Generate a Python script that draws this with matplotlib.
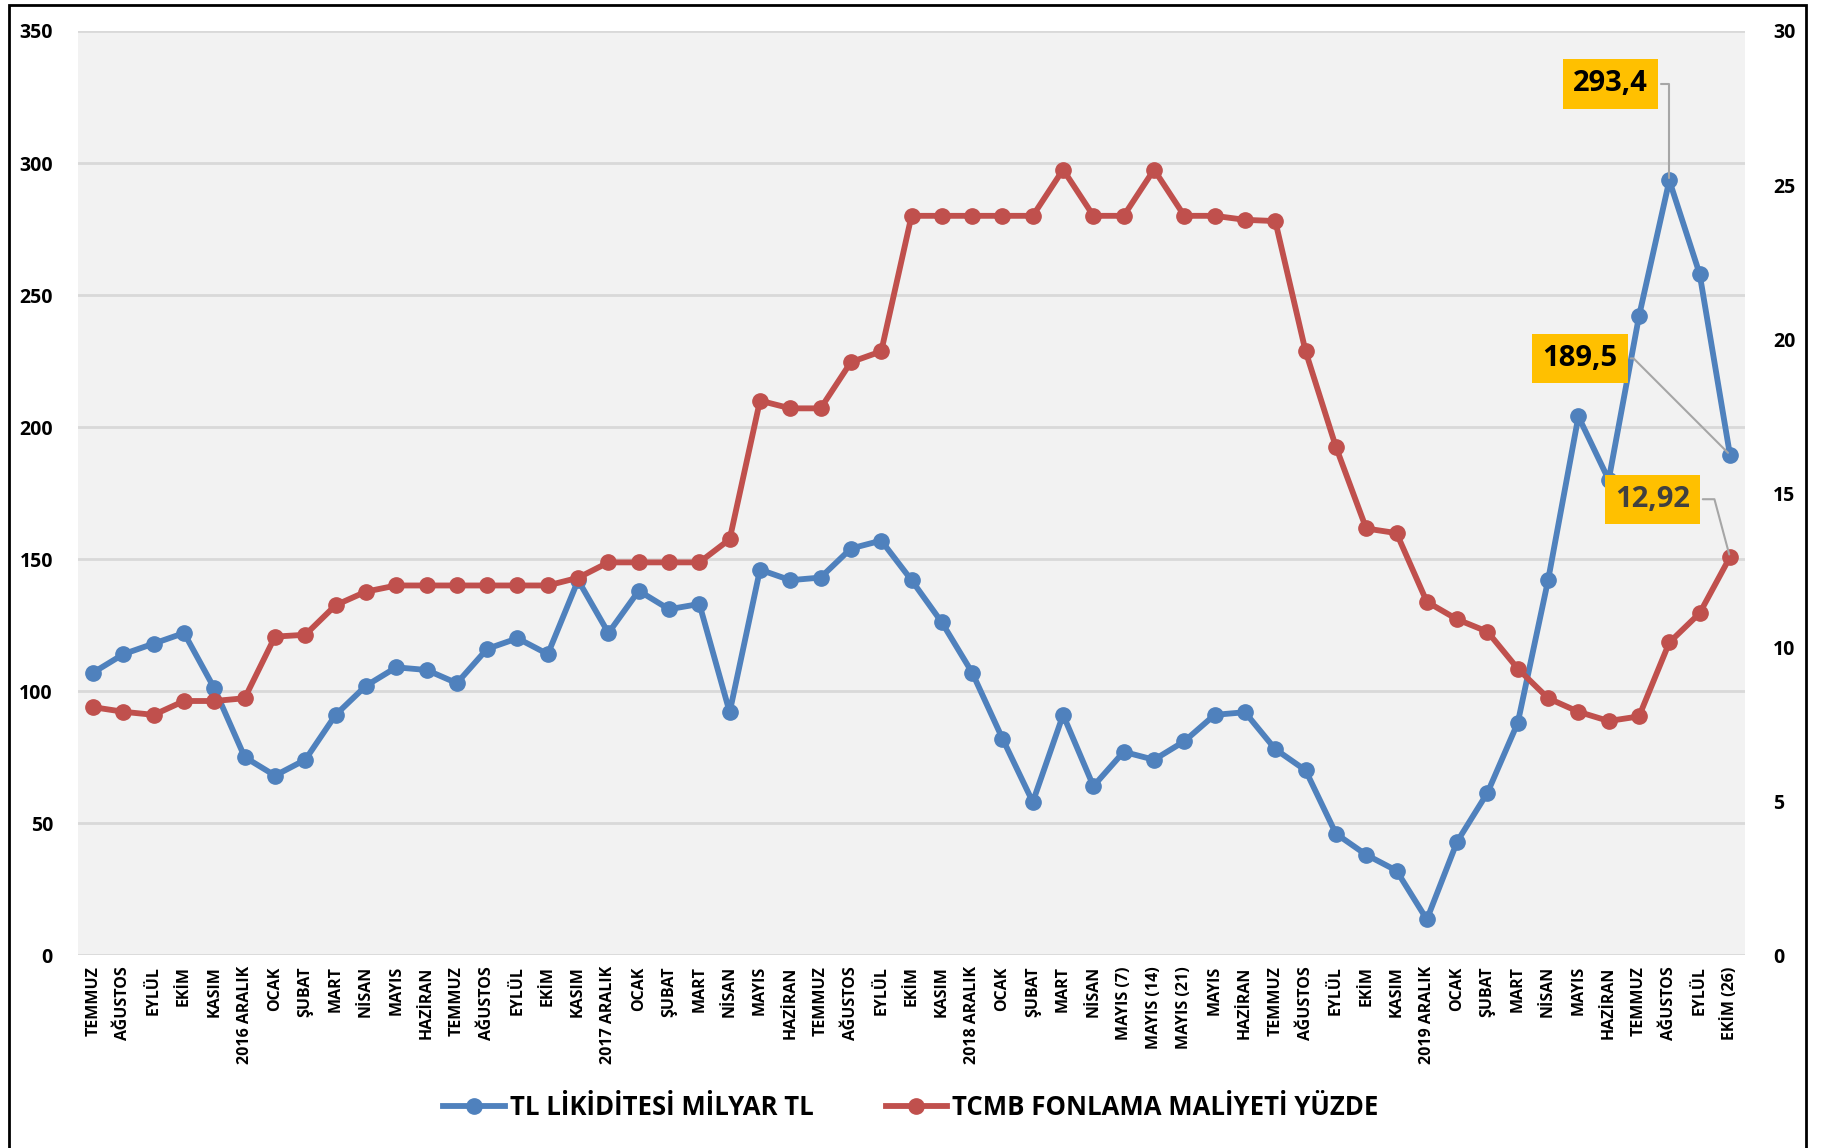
import matplotlib
matplotlib.use("Agg")
import matplotlib.pyplot as plt
from matplotlib.patches import Rectangle

plt.rcParams['font.family'] = ['Open Sans', 'DejaVu Sans']

# -----------------------------
# Data
# -----------------------------
months = [
    "TEMMUZ", "AĞUSTOS", "EYLÜL", "EKİM", "KASIM", "2016 ARALIK", "OCAK", "ŞUBAT",
    "MART", "NİSAN", "MAYIS", "HAZİRAN", "TEMMUZ", "AĞUSTOS", "EYLÜL", "EKİM",
    "KASIM", "2017 ARALIK", "OCAK", "ŞUBAT", "MART", "NİSAN", "MAYIS", "HAZİRAN",
    "TEMMUZ", "AĞUSTOS", "EYLÜL", "EKİM", "KASIM", "2018 ARALIK", "OCAK", "ŞUBAT",
    "MART", "NİSAN", "MAYIS (7)", "MAYIS (14)", "MAYIS (21)", "MAYIS", "HAZİRAN",
    "TEMMUZ", "AĞUSTOS", "EYLÜL", "EKİM", "KASIM", "2019 ARALIK", "OCAK", "ŞUBAT",
    "MART", "NİSAN", "MAYIS", "HAZİRAN", "TEMMUZ", "AĞUSTOS", "EYLÜL", "EKİM (26)",
]

tl_likidite = [
    107, 114, 118, 122, 101, 75, 68, 74, 91, 102, 109, 108, 103, 116, 120, 114,
    142, 122, 138, 131, 133, 92, 146, 142, 143, 154, 157, 142, 126, 107, 82, 58,
    91, 64, 77, 74, 81, 91, 92, 78, 70, 46, 38, 32, 13.5, 43, 61.5, 88,
    142, 204, 180, 242, 293.4, 258, 189.5,
]

tcmb_fonlama = [
    8.05, 7.9, 7.8, 8.25, 8.25, 8.34, 10.34, 10.4, 11.36, 11.8, 12.0, 12.0, 12.0, 12.0, 12.0, 12.0,
    12.25, 12.75, 12.75, 12.75, 12.75, 13.5, 18.0, 17.75, 17.75, 19.25, 19.6, 24.0, 24.0, 24.0, 24.0, 24.0,
    25.5, 24.0, 24.0, 25.5, 24.0, 24.0, 23.87, 23.83, 19.6, 16.5, 13.85, 13.7, 11.47, 10.9, 10.5, 9.3,
    8.34, 7.9, 7.6, 7.75, 10.15, 11.1, 12.92,
]

blue = "#4F81BD"
red = "#C0504D"

# -----------------------------
# Plot
# -----------------------------
fig = plt.figure(figsize=(18.22, 11.48), dpi=100)
ax = fig.add_axes([0.0428, 0.168, 0.915, 0.805])
ax2 = ax.twinx()

x = list(range(len(months)))
l1, = ax.plot(x, tl_likidite, color=blue, lw=4.2, marker="o", ms=11, zorder=3,
              label="TL LİKİDİTESİ MİLYAR TL")
l2, = ax2.plot(x, tcmb_fonlama, color=red, lw=4.2, marker="o", ms=11, zorder=3,
               label="TCMB FONLAMA MALİYETİ YÜZDE")

ax.set_facecolor("#F2F2F2")
ax.set_xlim(-0.5, len(months) - 0.5)
ax.set_ylim(0, 350)
ax2.set_ylim(0, 30)
ax.set_yticks(range(0, 351, 50))
ax2.set_yticks(range(0, 31, 5))
ax.grid(axis="y", color="#D9D9D9", lw=2)
ax.set_axisbelow(True)

ax.set_xticks(x)
ax.set_xticklabels(months, rotation=90, fontsize=11.5, fontweight="bold")
for a in (ax, ax2):
    for s in a.spines.values():
        s.set_visible(False)
    a.tick_params(length=0)
ax.tick_params(axis="y", pad=18, labelsize=14)
ax.tick_params(axis="x", pad=8)
ax2.tick_params(axis="y", pad=20, labelsize=14)
for lab in ax.get_yticklabels() + ax2.get_yticklabels():
    lab.set_fontweight("bold")

# annotations
box = dict(boxstyle="square,pad=0.35", fc="#FFC000", ec="none")
ax.annotate("293,4", xy=(52, tl_likidite[52]), xytext=(50.06, 330),
            fontsize=21, fontweight="bold", color="black", ha="center", va="center",
            bbox=box, zorder=5,
            arrowprops=dict(arrowstyle="-", color="#A6A6A6", lw=1.5,
                            connectionstyle="angle,angleA=0,angleB=90,rad=0"))
ax.annotate("189,5", xy=(54, tl_likidite[54]), xytext=(49.06, 226),
            fontsize=21, fontweight="bold", color="black", ha="center", va="center",
            bbox=box, zorder=5,
            arrowprops=dict(arrowstyle="-", color="#A6A6A6", lw=1.5,
                            connectionstyle="angle,angleA=0,angleB=135,rad=0"))
ax2.annotate("12,92", xy=(54, tcmb_fonlama[54]), xytext=(51.44, 14.8),
             fontsize=21, fontweight="bold", color="#404040", ha="center", va="center",
             bbox=box, zorder=5,
             arrowprops=dict(arrowstyle="-", color="#A6A6A6", lw=1.5,
                             connectionstyle="angle,angleA=0,angleB=105,rad=0"))

fig.legend(handles=[l1, l2], loc="center", bbox_to_anchor=(0.50, 0.035), ncol=2,
           frameon=False, handlelength=2.4, columnspacing=2.8, handletextpad=0.2,
           prop=dict(family=["Open Sans", "DejaVu Sans"], weight="bold", size=18.5))

# outer frame
fig.patches.append(Rectangle((0.005, -0.01), 0.986, 1.006, transform=fig.transFigure,
                             fill=False, ec="black", lw=2))

plt.savefig("out.png", dpi=100)
